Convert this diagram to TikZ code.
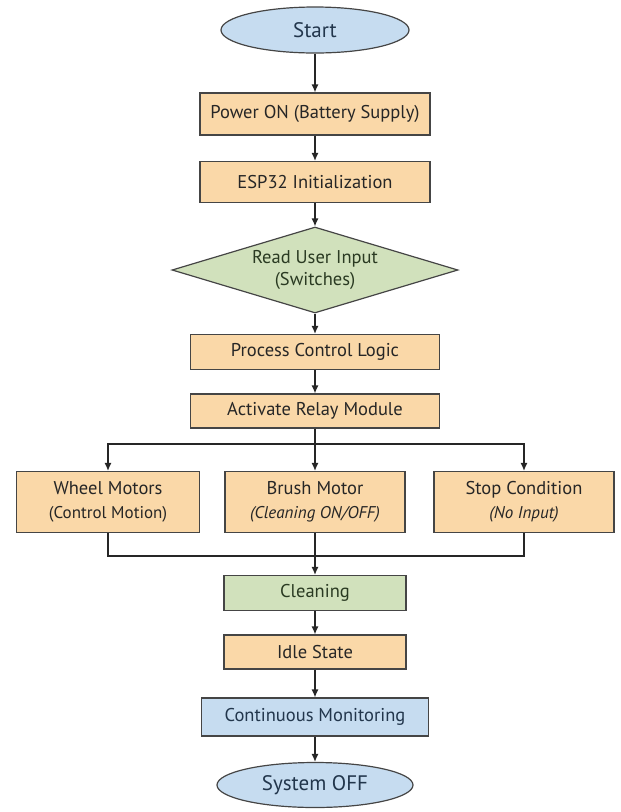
\documentclass[tikz,border=0pt]{standalone}
\usepackage{fontspec}
\setmainfont{PT Sans}
\usetikzlibrary{shapes.geometric,arrows.meta}
\definecolor{peach}{HTML}{FAD8A8}
\definecolor{sage}{HTML}{D1E1BC}
\definecolor{sky}{HTML}{C6DCF0}
\definecolor{edge}{HTML}{454545}
\definecolor{navy}{HTML}{22364C}
\definecolor{leaf}{HTML}{2A3A22}
\newcommand{\subtxt}{\fontsize{17}{22}\selectfont}
\tikzset{
  base/.style={draw=edge, line width=1.2pt, inner sep=2pt, align=center, font=\fontsize{18.5}{22}\selectfont, text=black!85},
  proc/.style={base, rectangle, fill=peach},
  done/.style={base, rectangle, fill=sage, text=leaf},
  watch/.style={base, rectangle, fill=sky, text=navy},
  term/.style={base, ellipse, fill=sky, text=navy, font=\fontsize{21}{24}\selectfont},
  choice/.style={base, diamond, fill=sage, aspect=3.3, inner sep=0pt, text=leaf},
  arr/.style={draw=black!85, line width=1.2pt, -{Latex[length=8pt,width=7pt]}},
  ln/.style={draw=black!85, line width=1.2pt}
}
\begin{document}
\begin{tikzpicture}[x=1pt,y=-1pt]
\useasboundingbox (0,0) rectangle (621,812);
% main column
\node[term, minimum width=188pt, minimum height=46pt] (start) at (315,30) {Start};
\node[proc, minimum width=230pt, minimum height=42pt] (power) at (315,114) {Power ON (Battery Supply)};
\node[proc, minimum width=230pt, minimum height=41pt] (esp) at (315,182) {ESP32 Initialization};
\node[choice, minimum width=286pt, minimum height=86pt] (read) at (315,270) {Read User Input\\(Switches)};
\node[proc, minimum width=249pt, minimum height=35pt] (logic) at (315,352) {Process Control Logic};
\node[proc, minimum width=249pt, minimum height=34pt] (relay) at (315,411) {Activate Relay Module};

% branches
\node[proc, minimum width=183pt, minimum height=61pt] (wheel) at (108,502) {Wheel Motors\\[2pt]{\subtxt (Control Motion)}};
\node[proc, minimum width=180pt, minimum height=61pt] (brush) at (315,502) {Brush Motor\\[2pt]{\subtxt\itshape (Cleaning ON/OFF)}};
\node[proc, minimum width=180pt, minimum height=61pt] (stop) at (524,502) {Stop Condition\\[2pt]{\subtxt\itshape (No Input)}};
\coordinate (split) at (315,444);
\coordinate (join) at (315,556);

% lower column
\node[done, minimum width=182pt, minimum height=35pt] (clean) at (315,593) {Cleaning};
\node[proc, minimum width=182pt, minimum height=34pt] (idle) at (315,652) {Idle State};
\node[watch, minimum width=227pt, minimum height=38pt] (monitor) at (315,717) {Continuous Monitoring};
\node[term, minimum width=196pt, minimum height=45pt] (off) at (315,785) {System OFF};

% connectors
\draw[arr] (start) -- (power);
\draw[arr] (power) -- (esp);
\draw[arr] (esp) -- (read);
\draw[arr] (read) -- (logic);
\draw[arr] (logic) -- (relay);
\draw[ln] (relay) -- (split);
\draw[arr] (split) -| (wheel.north);
\draw[arr] (split) -- (brush);
\draw[arr] (split) -| (stop.north);
\draw[ln] (wheel.south) |- (join);
\draw[ln] (stop.south) |- (join);
\draw[arr] (brush) -- (clean);
\draw[arr] (clean) -- (idle);
\draw[arr] (idle) -- (monitor);
\draw[arr] (monitor) -- (off);
\end{tikzpicture}
\end{document}
